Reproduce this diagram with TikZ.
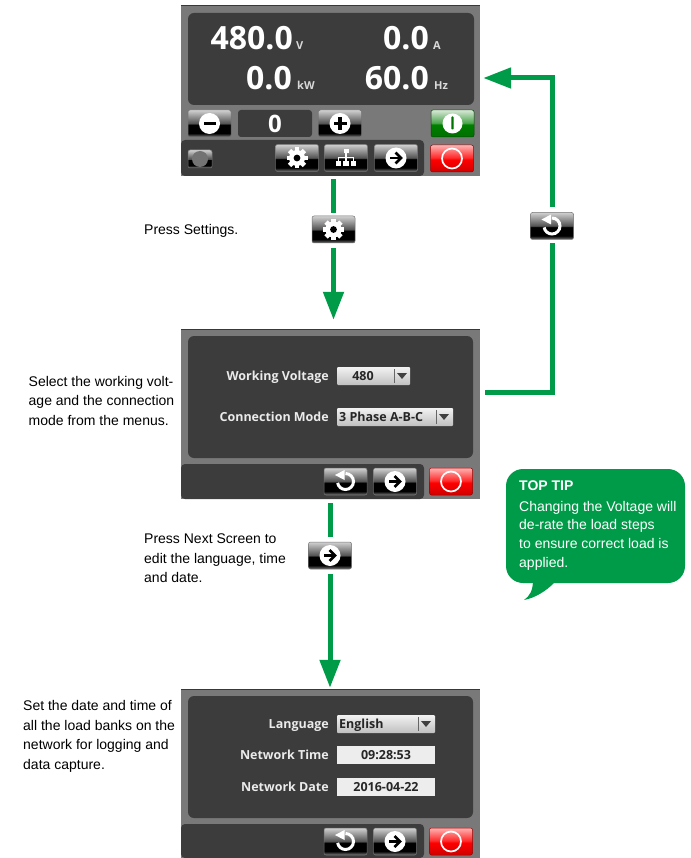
\documentclass[tikz,border=0pt]{standalone}
\usepackage{fontspec}
\setmainfont{Open Sans}
\newfontfamily\notefont{Liberation Sans}
\usetikzlibrary{arrows.meta,positioning}

\definecolor{arrowgreen}{HTML}{009B48}
\definecolor{framegray}{HTML}{797979}
\definecolor{panelgray}{HTML}{3C3C3C}
\definecolor{framenavy}{HTML}{2A3A55}

\pgfdeclareverticalshading{btnblack}{100bp}{color(0bp)=(black!60!white); color(26bp)=(black!60!white); color(32bp)=(black); color(48bp)=(black); color(50bp)=(black!68!white); color(75bp)=(black!18!white); color(100bp)=(black!18!white)}
\pgfdeclareverticalshading{btnred}{100bp}{color(0bp)=(red!70!black); color(30bp)=(red!85!black); color(48bp)=(red); color(51bp)=(red!85!white); color(75bp)=(red!30!white); color(100bp)=(red!30!white)}
\pgfdeclareverticalshading{btngreen}{100bp}{color(0bp)=(green!45!black); color(30bp)=(green!45!black); color(48bp)=(green!50!black); color(51bp)=(green!50!black!70!white); color(75bp)=(green!40!black!15!white); color(100bp)=(green!40!black!15!white)}

\tikzset{
  screen/.style={fill=framegray,inner sep=0pt,minimum width=299pt},
  panel/.style={fill=panelgray,rounded corners=6pt,inner sep=0pt,minimum width=286pt},
  btn/.style={shading=btnblack,draw=black!55!white,line width=0.5pt,rounded corners=2pt,inner sep=0pt,minimum width=43pt,minimum height=27pt},
  btnstop/.style={btn,shading=btnred,draw=red!60!black},
  btnrun/.style={btn,shading=btngreen,draw=green!30!black},
  dropbox/.style={top color=white!95!black,bottom color=black!25!white,rounded corners=1pt,inner sep=0pt,minimum height=18pt},
  valuebox/.style={fill=white!93!black,inner sep=0pt,minimum width=98pt,minimum height=18pt},
  scrlabel/.style={text=white!92!black,font=\bfseries\fontsize{12.5}{14}\selectfont,inner sep=0pt,anchor=base east},
  scrvalue/.style={text=black!85!white,font=\bfseries\fontsize{12.5}{14}\selectfont,inner sep=0pt,anchor=base},
  bigvalue/.style={text=white,font=\bfseries\fontsize{32}{40}\selectfont,inner sep=0pt,anchor=base east},
  unitlabel/.style={text=white!85!black,font=\bfseries\fontsize{11}{13}\selectfont,inner sep=0pt,anchor=base west},
  note/.style={font=\notefont\fontsize{14}{19.5}\selectfont,align=left,inner sep=0pt,anchor=north west},
  flow/.style={draw=arrowgreen,line width=5pt},
  flowtip/.style={flow,-{Triangle[length=28pt,width=20pt]}},
  pics/gearicon/.style={code={
    \foreach \a in {0,45,...,315}
      \fill[white,rotate=\a] (-2.4,-10.5) rectangle (2.4,0);
    \fill[white] (0,0) circle (8);
    \fill[black] (0,0) circle (3.4);
  }},
  pics/treeicon/.style={code={
    \fill[white] (-2.5,-9) rectangle (2.5,-4.5);
    \fill[white] (-0.7,-5) rectangle (0.7,3);
    \fill[white] (-7.5,-1.2) rectangle (7.5,0.2);
    \foreach \x in {-7.5,0,7.5} {
      \fill[white] (\x-0.7,-1) rectangle (\x+0.7,3);
      \fill[white] (\x-2.6,3) rectangle (\x+2.6,8);
    }
  }},
  pics/nexticon/.style={code={
    \fill[white] (0,0) circle (10.5);
    \draw[black,line width=2.6pt] (-6,0) -- (4,0);
    \draw[black,line width=2.6pt] (-0.5,-5.5) -- (5,0) -- (-0.5,5.5);
  }},
  pics/backicon/.style={code={
    \draw[white,line width=3pt] (0,-8) arc (-90:170:8);
    \fill[white] (-1,-11.5) -- (-10.5,-6.5) -- (-1,-1.5) -- cycle;
  }},
  pics/minusicon/.style={code={
    \fill[white] (0,0) circle (10.5);
    \fill[black] (-6,-1.8) rectangle (6,1.8);
  }},
  pics/plusicon/.style={code={
    \fill[white] (0,0) circle (10.5);
    \fill[black] (-6.5,-1.8) rectangle (6.5,1.8);
    \fill[black] (-1.8,-6.5) rectangle (1.8,6.5);
  }},
  pics/runicon/.style={code={
    \fill[white] (0,0) circle (10);
    \fill[green!45!black,rounded corners=0.8pt] (-1.2,-7) rectangle (1.2,6);
  }},
  pics/stopicon/.style={code={
    \draw[white,line width=1.7pt] (0,0) circle (10);
  }},
  pics/droparrow/.style={code={
    \draw[black!60!white,line width=0.6pt] (-6,-7) -- (-6,7);
    \fill[black!75!white] (-3,-3) -- (7,-3) -- (2,3) -- cycle;
  }}
}

\begin{document}
\begin{tikzpicture}[x=1pt,y=-1pt]
  \useasboundingbox (0,0) rectangle (690,858);

  % first screen
  \node[screen,minimum height=170pt] (scrmain) at (330.5,91) {};
  \draw[framenavy,line width=0.6pt] (scrmain.north west) -- (scrmain.north east);
  \node[panel,minimum height=92pt] (panelmain) at (331,59) {};
  \foreach \val/\unit/\vx/\ux/\by/\name in {480.0/V/293/296/50/v,0.0/A/429/433/50/a,0.0/kW/292/297/90/k,60.0/Hz/429/434/90/h} {
    \node[bigvalue] (val\name) at (\vx,\by) {\val};
    \node[unitlabel] (unit\name) at (\ux,\by) {\unit};
  }
  \node[btn] (btnminus) at (209.5,123.5) {};
  \pic at (btnminus) {minusicon};
  \node[fill=panelgray,rounded corners=3pt,minimum width=74pt,minimum height=27pt,inner sep=0pt,
        text=white,font=\bfseries\fontsize{24}{28}\selectfont] (stepval) at (275,123.5) {0};
  \node[btn] (btnplus) at (340,123.5) {};
  \pic at (btnplus) {plusicon};
  \node[btnrun] (btnrun) at (452.5,123.5) {};
  \pic at (btnrun) {runicon};
  \fill[panelgray,rounded corners=4pt] (181,176) -- (181,140) -- (424,140) -- (424,176) -- cycle;
  \node[btn,minimum width=24pt,minimum height=18pt] (lamp) at (200,159) {};
  \fill[black!55!white] (lamp) circle (8);
  \node[btn] (btngear) at (297,158) {};
  \pic at (btngear) {gearicon};
  \node[btn] (btntree) at (346,158) {};
  \pic at (btntree) {treeicon};
  \node[btn] (btnnext) at (396,158) {};
  \pic at (btnnext) {nexticon};
  \node[btnstop] (btnstop) at (452,158.5) {};
  \pic at (btnstop) {stopicon};

  % second screen
  \node[screen,minimum height=170pt] (scrvolt) at (330.5,414) {};
  \draw[framenavy,line width=0.6pt] (scrvolt.north west) -- (scrvolt.north east);
  \node[panel,minimum width=285pt,minimum height=122pt] (panelvolt) at (330.5,397) {};
  \fill[panelgray,rounded corners=4pt] (181,499) -- (181,464) -- (424,464) -- (424,499) -- cycle;
  \node[dropbox,minimum width=73pt] (dropvolt) at (373.5,376) {};
  \node[dropbox,minimum width=116pt] (dropmode) at (395,417) {};
  \pic at (400,376) {droparrow};
  \pic at (442,417) {droparrow};
  \node[scrvalue] (txtvolt) at (363,380.5) {480};
  \node[scrvalue,anchor=base west] (txtmode) at (339,421.5) {3 Phase A-B-C};
  \node[scrlabel] (lblvolt) at (329,380.5) {Working Voltage};
  \node[scrlabel] (lblmode) at (329,421.5) {Connection Mode};
  \node[btn] (voltback) at (345.5,481.5) {};
  \pic at (voltback) {backicon};
  \node[btn] (voltnext) at (395,481.5) {};
  \pic at (voltnext) {nexticon};
  \node[btnstop] (voltstop) at (451,481.5) {};
  \pic at (voltstop) {stopicon};

  % third screen
  \node[screen,minimum height=169pt] (scrdate) at (330.5,773.5) {};
  \draw[framenavy,line width=0.6pt] (scrdate.north west) -- (scrdate.north east);
  \node[panel,minimum width=285pt,minimum height=122pt] (paneldate) at (330.5,757) {};
  \fill[panelgray,rounded corners=4pt] (181,858) -- (181,824) -- (424,824) -- (424,858) -- cycle;
  \node[dropbox,minimum width=98pt] (droplang) at (386,724) {};
  \pic at (424,724) {droparrow};
  \node[scrvalue,anchor=base west] (txtlang) at (339,728.5) {English};
  \node[valuebox] (boxtime) at (386,755) {};
  \node[valuebox] (boxdate) at (386,787) {};
  \node[scrvalue] (txttime) at (386,759.5) {09:28:53};
  \node[scrvalue] (txtdate) at (386,791.5) {2016-04-22};
  \node[scrlabel] (lbllang) at (329,728.5) {Language};
  \node[scrlabel] (lbltime) at (329,759.5) {Network Time};
  \node[scrlabel] (lbldate) at (329,791.5) {Network Date};
  \node[btn] (dateback) at (345.5,841.5) {};
  \pic at (dateback) {backicon};
  \node[btn] (datenext) at (395,841.5) {};
  \pic at (datenext) {nexticon};
  \node[btnstop] (datestop) at (451,841.5) {};
  \pic at (datestop) {stopicon};

  % buttons on the arrows
  \node[btn] (stepgear) at (333.5,229.5) {};
  \pic at (stepgear) {gearicon};
  \node[btn] (stepnext) at (330,555.5) {};
  \pic at (stepnext) {nexticon};
  \node[btn] (stepback) at (552,226) {};
  \pic at (stepback) {backicon};

  % arrows
  \draw[flow] ([yshift=-3pt]stepgear.north |- scrmain.south) -- ([yshift=3pt]stepgear.north);
  \draw[flowtip] ([yshift=-5pt]stepgear.south) -- ([yshift=9pt]stepgear.south |- scrvolt.north);
  \draw[flow] ([yshift=-4pt]stepnext.north |- scrvolt.south) -- ([yshift=5pt]stepnext.north);
  \draw[flowtip] ([yshift=-5pt]stepnext.south) -- ([yshift=1pt]stepnext.south |- scrdate.north);
  \draw[flow] ([xshift=5pt]scrvolt.east |- 0,392) -- (552,392) -- ([yshift=-3pt]stepback.south);
  \draw[flowtip] ([yshift=5pt]stepback.north) -- (552,78) -- ([xshift=3pt]scrmain.east |- 0,78);

  % notes
  \node[note] (notegear) at (144,224) {Press Settings.};
  \node[note] (notevolt) at (28.5,376) {Select the working volt-\\age and the connection\\mode from the menus.};
  \node[note] (notenext) at (144,534) {Press Next Screen to\\edit the language, time\\and date.};
  \node[note] (notedate) at (23,700.5) {Set the date and time of\\all the load banks on the\\network for logging and\\data capture.};

  % top tip
  \node[fill=arrowgreen,rounded corners=17pt,minimum width=179pt,minimum height=114pt,inner sep=0pt] (tipbox) at (595.5,526) {};
  \fill[arrowgreen] (533,580) .. controls (533,590) and (530,596) .. (524,600) .. controls (535,598) and (546,591) .. (554,583) -- cycle;
  \node[note,text=white,font=\notefont\fontsize{14}{18.7}\selectfont] (tiptext) at (519,480.5) {\textbf{TOP TIP}\\[2pt]Changing the Voltage will\\de-rate the load steps\\to ensure correct load is\\applied.};
\end{tikzpicture}
\end{document}
